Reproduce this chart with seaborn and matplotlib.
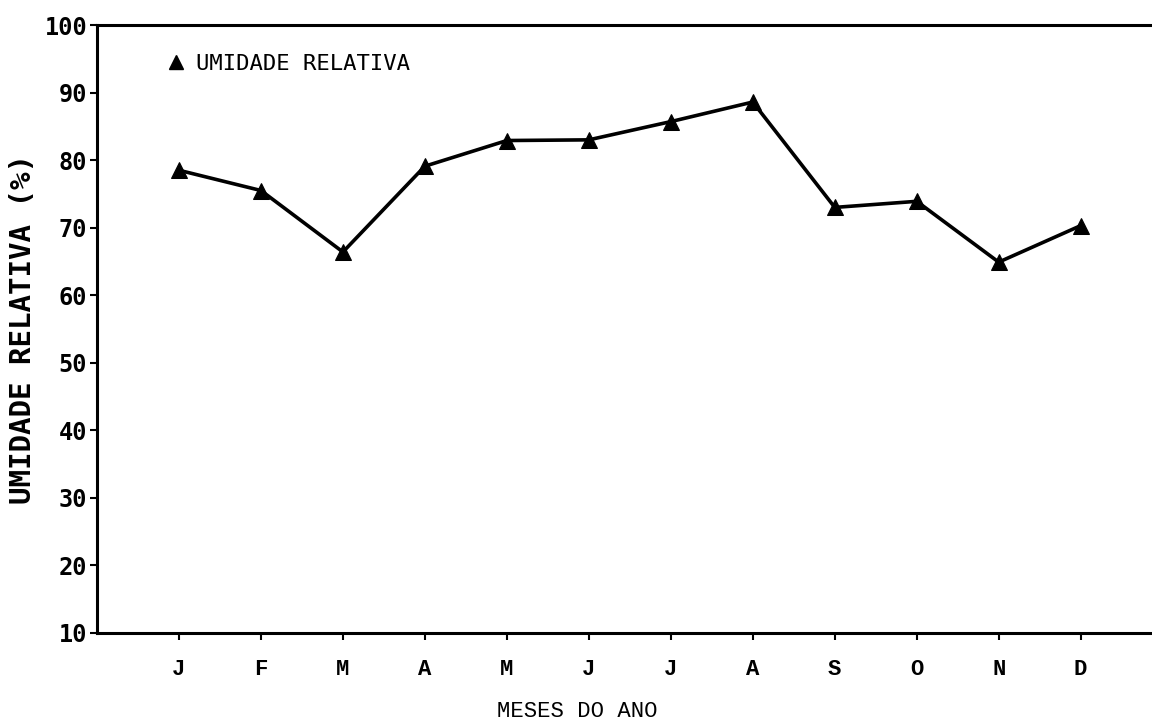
import matplotlib
matplotlib.use("Agg")
import matplotlib.pyplot as plt
import seaborn as sns
import pandas as pd
from matplotlib.lines import Line2D

months = ["J", "F", "M", "A", "M", "J", "J", "A", "S", "O", "N", "D"]
umidade = [78.5, 75.5, 66.4, 79.1, 82.9, 83.0, 85.7, 88.6, 73.0, 73.9, 64.9, 70.3]
yticks = [10, 20, 30, 40, 50, 60, 70, 80, 90, 100]

sns.set_theme(style="white")
plt.rcParams['font.family'] = ['DejaVu Sans Mono', 'DejaVu Sans']

df = pd.DataFrame({"idx": range(len(months)), "ur": umidade})

fig = plt.figure(figsize=(11.52, 7.27), dpi=100)
ax = fig.add_axes([0.0842, 0.1293, 0.9158, 0.8363])

sns.lineplot(data=df, x="idx", y="ur", ax=ax, color="black", linewidth=2.6,
             marker="^", markersize=11, markeredgecolor="black",
             markerfacecolor="black")

ax.set_xlim(-1, 11.87)
ax.set_ylim(10, 100)
ax.set_xticks(range(len(months)))
ax.set_xticklabels(months, fontfamily="Liberation Mono", fontsize=16,
                   fontweight="bold", color="black")
ax.set_yticks(yticks)
ax.set_yticklabels([str(v) for v in yticks], fontfamily="DejaVu Sans Mono",
                   fontsize=17, fontweight="bold", color="black")

for s in ["left", "bottom", "top"]:
    ax.spines[s].set_visible(True)
    ax.spines[s].set_color("black")
    ax.spines[s].set_linewidth(2.2)
ax.spines["right"].set_visible(False)

ax.tick_params(axis="both", which="major", direction="out", length=5,
               width=1.5, color="black", left=True, bottom=True)
ax.tick_params(axis="x", pad=14)
ax.tick_params(axis="y", pad=2)

ax.set_xlabel("MESES DO ANO", fontfamily="Liberation Mono", fontsize=16,
              color="black")
ax.xaxis.set_label_coords(0.455, -0.112)
ax.set_ylabel("UMIDADE RELATIVA (%)", fontfamily="DejaVu Sans Mono",
              fontsize=21, fontweight="bold", color="black")
ax.yaxis.set_label_coords(-0.057, 0.5)

handle = Line2D([], [], color="black", marker="^", linestyle="None",
                markersize=10)
leg = ax.legend([handle], ["UMIDADE RELATIVA"], loc="upper left",
                bbox_to_anchor=(0.045, 0.985), frameon=False,
                prop={"family": "DejaVu Sans Mono", "size": 16},
                handletextpad=0.4, handlelength=1.0)
for t in leg.get_texts():
    t.set_color("black")

fig.savefig("out.png", dpi=100, facecolor="white")
